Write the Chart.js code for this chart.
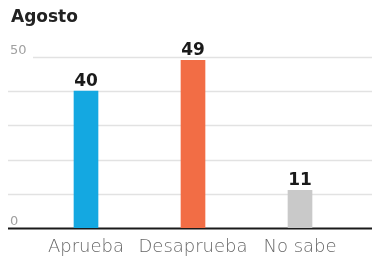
<!DOCTYPE html>
<html>
<head>
<meta charset="utf-8">
<script src="https://cdn.jsdelivr.net/npm/chart.js@4"></script>
<style>
  html, body { margin: 0; padding: 0; background: #fff; }
  #wrap { width: 372px; height: 261px; }
</style>
</head>
<body>
<div id="wrap"><canvas id="grafico" width="372" height="261"></canvas></div>
<script>
// Dados
const titulo = 'Agosto';
const categorias = ['Aprueba', 'Desaprueba', 'No sabe'];
const valores = [40, 49, 11];
const cores = ['#14a8e1', '#f26d45', '#c9c9c9'];
const gradeValores = [0, 10, 20, 30, 40, 50];
const rotulosEixo = [0, 50];

// Plugin para grade, rótulos e título
const extras = {
  id: 'extras',
  beforeDatasetsDraw(chart) {
    const { ctx, scales: { y }, width } = chart;
    ctx.save();
    ctx.font = '13px "DejaVu Sans"';
    ctx.textAlign = 'left';
    ctx.textBaseline = 'alphabetic';
    gradeValores.forEach(v => {
      const py = Math.round(y.getPixelForValue(v)) + 0.5;
      let x0 = 8;
      if (v === 50) x0 = 33;
      ctx.strokeStyle = v === 0 ? '#1a1a1a' : '#e2e2e2';
      ctx.lineWidth = v === 0 ? 2 : 1.5;
      ctx.beginPath();
      ctx.moveTo(x0, py);
      ctx.lineTo(width, py);
      ctx.stroke();
    });
    ctx.fillStyle = '#a0a0a0';
    rotulosEixo.forEach(v => {
      const py = y.getPixelForValue(v);
      ctx.fillText(String(v), 10, py - 3);
    });
    ctx.fillStyle = '#222';
    ctx.font = 'bold 17px "DejaVu Sans"';
    ctx.fillText(titulo, 11, 22);
    ctx.restore();
  },
  afterDatasetsDraw(chart) {
    const { ctx } = chart;
    const meta = chart.getDatasetMeta(0);
    ctx.save();
    ctx.font = 'bold 17px "DejaVu Sans"';
    ctx.fillStyle = '#1a1a1a';
    ctx.textAlign = 'center';
    ctx.textBaseline = 'alphabetic';
    meta.data.forEach((bar, i) => {
      ctx.fillText(String(valores[i]), bar.x, bar.y - 5);
    });
    ctx.restore();
  }
};

new Chart(document.getElementById('grafico'), {
  type: 'bar',
  data: {
    labels: categorias,
    datasets: [{
      data: valores,
      backgroundColor: cores,
      borderWidth: 0,
      barThickness: 24
    }]
  },
  options: {
    responsive: false,
    animation: false,
    layout: { padding: { left: 32.5, right: 18.5, top: 57, bottom: 5 } },
    plugins: {
      legend: { display: false },
      title: { display: false },
      tooltip: { enabled: false }
    },
    scales: {
      x: {
        grid: { display: false },
        border: { display: false },
        afterFit(scale) { scale.height = 28; },
        ticks: {
          padding: 1,
          color: '#666',
          autoSkip: false,
          maxRotation: 0,
          minRotation: 0,
          font: { family: 'DejaVu Sans', size: 18, weight: 300 }
        }
      },
      y: {
        display: false,
        min: 0,
        max: 50
      }
    }
  },
  plugins: [extras]
});
</script>
</body>
</html>
